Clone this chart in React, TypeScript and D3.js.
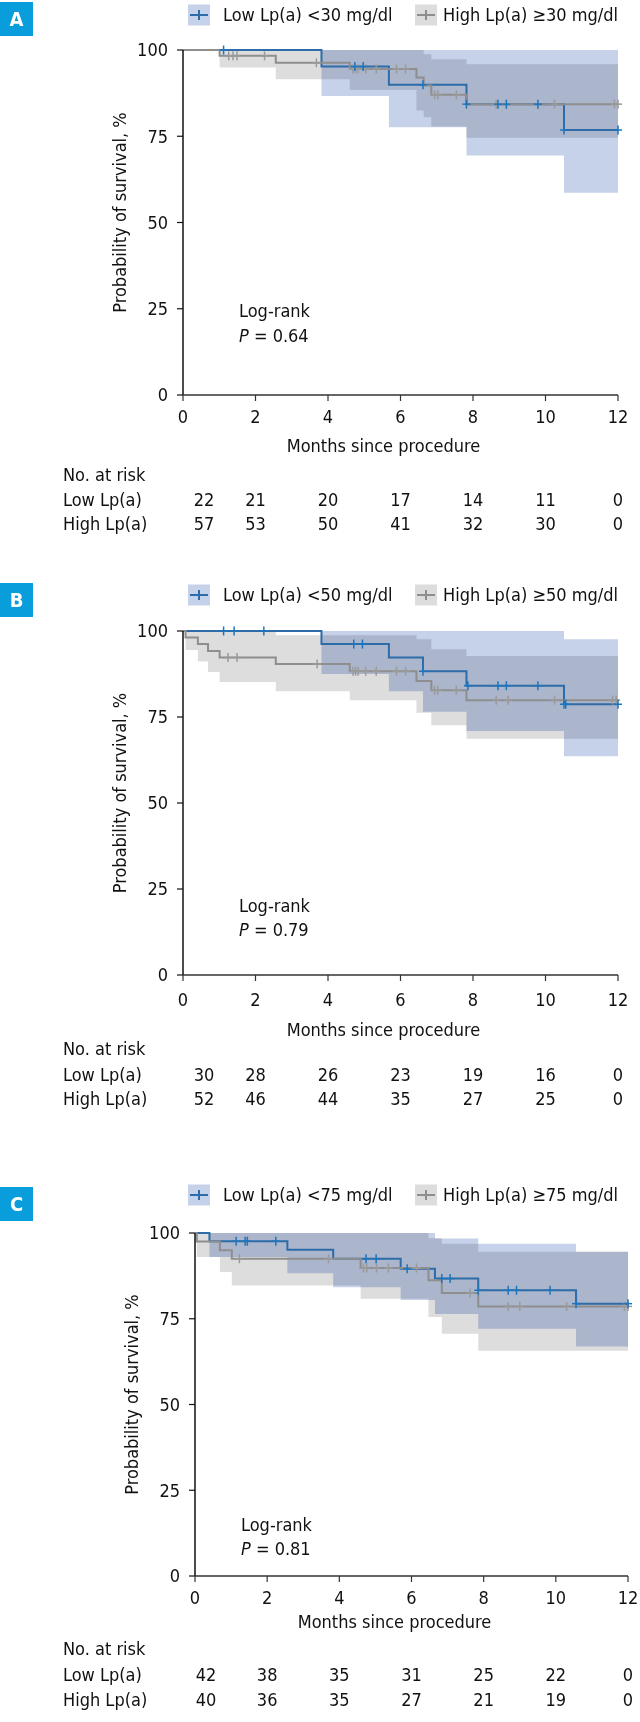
import * as d3 from "d3";

// ---- shared ----
const MONTH_TICKS = [0, 2, 4, 6, 8, 10, 12];
const SURV_TICKS = [0, 25, 50, 75, 100];
const PANEL_LETTERS = ["A", "B", "C"];
const CUTOFFS = [30, 50, 75];
const P_VALUES = ["0.64", "0.79", "0.81"];

// ---- panel A (cutoff 30 mg/dl) ----
const aLowT = [0, 3.82, 5.68, 7.82, 10.51, 12];
const aLowS = [100, 95.2, 89.9, 84.3, 76.8, 76.8];
const aLowCens = [1.12, 4.74, 4.97, 6.62, 7.82, 8.69, 8.92, 9.79, 10.51, 12];
const aLowBandT = [3.82, 5.68, 7.82, 10.51, 12];
const aLowUp = [100, 100, 100, 100, 100];
const aLowLo = [86.7, 77.6, 69.4, 58.6, 58.6];

const aHighT = [0, 1.01, 2.56, 4.6, 6.44, 6.64, 6.85, 7.82, 12];
const aHighS = [100, 98.3, 96.3, 94.5, 92.0, 89.7, 87.0, 84.3, 84.3];
const aHighCens = [1.26, 1.38, 1.49, 2.25, 3.68, 4.69, 4.76, 4.83, 5.04, 5.33, 5.89, 6.14, 6.94, 7.03, 7.54, 8.64, 8.92, 10.25, 11.9, 12];
const aHighBandT = [1.01, 2.56, 4.6, 6.44, 6.64, 6.85, 7.82, 12];
const aHighUp = [100, 100, 100, 100, 98.8, 97.3, 95.9, 95.9];
const aHighLo = [94.9, 91.5, 88.4, 82.5, 80.5, 77.8, 74.6, 74.6];

const aRiskLow = [22, 21, 20, 17, 14, 11, 0];
const aRiskHigh = [57, 53, 50, 41, 32, 30, 0];

// ---- panel B (cutoff 50 mg/dl) ----
const bLowT = [0, 3.82, 5.68, 6.62, 7.82, 10.51, 12];
const bLowS = [100, 96.2, 92.3, 88.3, 84.1, 78.7, 78.7];
const bLowCens = [1.12, 1.41, 2.23, 4.71, 4.95, 6.62, 7.86, 8.69, 8.92, 9.79, 10.51, 10.56, 12];
const bLowBandT = [3.82, 5.68, 6.62, 7.82, 10.51, 12];
const bLowUp = [100, 100, 100, 100, 97.6, 97.6];
const bLowLo = [87.5, 82.5, 76.5, 70.9, 63.6, 63.6];

const bHighT = [0, 0.07, 0.41, 0.69, 1.01, 2.56, 4.6, 6.44, 6.85, 7.82, 12];
const bHighS = [100, 98.1, 96.2, 94.2, 92.3, 90.4, 88.3, 85.5, 82.8, 79.9, 79.9];
const bHighCens = [1.24, 1.49, 3.7, 4.69, 4.76, 4.83, 5.04, 5.33, 5.89, 6.14, 6.94, 7.03, 7.54, 8.64, 8.97, 10.25, 11.85, 11.95];
const bHighBandT = [0.07, 0.41, 0.69, 1.01, 2.56, 4.6, 6.44, 6.85, 7.82, 12];
const bHighUp = [100, 100, 100, 100, 98.8, 98.8, 97.6, 94.7, 92.7, 92.7];
const bHighLo = [94.5, 91.1, 88.1, 85.2, 82.5, 79.9, 76.2, 72.6, 68.7, 68.7];

const bRiskLow = [30, 28, 26, 23, 19, 16, 0];
const bRiskHigh = [52, 46, 44, 35, 27, 25, 0];

// ---- panel C (cutoff 75 mg/dl) ----
const cLowT = [0, 0.4, 2.56, 3.83, 5.7, 6.65, 7.85, 10.56, 12];
const cLowS = [100, 97.6, 95.1, 92.5, 89.6, 86.7, 83.3, 79.4, 79.4];
const cLowCens = [1.14, 1.39, 1.45, 2.24, 4.74, 5.02, 5.88, 6.84, 7.07, 7.85, 8.68, 8.91, 9.84, 10.56, 12];
const cLowBandT = [0.4, 2.56, 3.83, 5.7, 6.65, 7.85, 10.56, 12];
const cLowUp = [100, 100, 100, 100, 98.4, 96.9, 94.5, 94.5];
const cLowLo = [93.0, 88.3, 84.2, 80.5, 76.4, 72.1, 66.9, 66.9];

const cHighT = [0, 0.05, 0.69, 1.02, 4.59, 6.47, 6.84, 7.85, 12];
const cHighS = [100, 97.5, 95.0, 92.5, 89.8, 86.2, 82.5, 78.6, 78.6];
const cHighCens = [1.23, 3.7, 4.67, 4.76, 5.03, 5.36, 6.14, 7.62, 8.68, 9.0, 10.3, 11.9, 12];
const cHighBandT = [0.05, 0.69, 1.02, 4.59, 6.47, 6.84, 7.85, 12];
const cHighUp = [100, 100, 100, 100, 98.5, 96.9, 94.5, 94.5];
const cHighLo = [93.0, 88.6, 84.7, 80.8, 75.5, 70.6, 65.7, 65.7];

const cRiskLow = [42, 38, 35, 31, 25, 22, 0];
const cRiskHigh = [40, 36, 35, 27, 21, 19, 0];

// ---- styling / layout ----
const FONT = "'DejaVu Sans Condensed', 'Liberation Sans Narrow', 'Arial Narrow', sans-serif";
const FS = 18;
const BLUE = "#2d6ca8";
const BLUE_MARK = "#1f75bb";
const BLUE_BAND = "#c6d1ea";
const GREY = "#8e8e8e";
const GREY_MARK = "#9a9a9a";
const GREY_BAND = "#dddddd";
const TAG = "#0a9ddc";

const LAYOUT = [
  { top: 2, legendY: 15, x0: 183, x12: 618, y100: 50, y0: 395, tickY: 417, monthsY: 446, noRiskY: 475, lowY: 500, highY: 524, lrX: 239, lrY: 311, pY: 336, firstOff: 21 },
  { top: 583, legendY: 595, x0: 183, x12: 618, y100: 631, y0: 975, tickY: 1000, monthsY: 1030, noRiskY: 1049, lowY: 1075, highY: 1099, lrX: 239, lrY: 906, pY: 930, firstOff: 21 },
  { top: 1187, legendY: 1195, x0: 195, x12: 628, y100: 1233, y0: 1576, tickY: 1598, monthsY: 1622, noRiskY: 1649, lowY: 1675, highY: 1700, lrX: 241, lrY: 1525, pY: 1549, firstOff: 11 },
];

const PANELS = [
  {
    low: { t: aLowT, s: aLowS, cens: aLowCens, bt: aLowBandT, up: aLowUp, lo: aLowLo },
    high: { t: aHighT, s: aHighS, cens: aHighCens, bt: aHighBandT, up: aHighUp, lo: aHighLo },
    riskLow: aRiskLow, riskHigh: aRiskHigh,
  },
  {
    low: { t: bLowT, s: bLowS, cens: bLowCens, bt: bLowBandT, up: bLowUp, lo: bLowLo },
    high: { t: bHighT, s: bHighS, cens: bHighCens, bt: bHighBandT, up: bHighUp, lo: bHighLo },
    riskLow: bRiskLow, riskHigh: bRiskHigh,
  },
  {
    low: { t: cLowT, s: cLowS, cens: cLowCens, bt: cLowBandT, up: cLowUp, lo: cLowLo },
    high: { t: cHighT, s: cHighS, cens: cHighCens, bt: cHighBandT, up: cHighUp, lo: cHighLo },
    riskLow: cRiskLow, riskHigh: cRiskHigh,
  },
];

const stepAt = (T: number[], S: number[], t: number) => {
  const i = d3.bisectRight(T, t) - 1;
  return S[Math.max(0, i)];
};

const Curve = ({ g, x, y, color }: any) => {
  const line = d3
    .line<number>()
    .x((d) => x(g.t[d]))
    .y((d) => y(g.s[d]))
    .curve(d3.curveStepAfter);
  return <path d={line(d3.range(g.t.length)) || ""} fill="none" stroke={color} strokeWidth={2} />;
};

const Marks = ({ g, x, y, mark }: any) => (
  <g stroke={mark} strokeWidth={1.5}>
    {g.cens.map((c: number, i: number) => {
      const cx = x(c);
      const cy = y(stepAt(g.t, g.s, c));
      return (
        <g key={i}>
          <line x1={cx} x2={cx} y1={cy - 4.5} y2={cy + 4.5} />
          <line x1={cx - 4} x2={cx + 4} y1={cy} y2={cy} />
        </g>
      );
    })}
  </g>
);

const Band = ({ g, x, y, fill, blend }: any) => {
  const area = d3
    .area<number>()
    .x((d) => x(g.bt[d]))
    .y0((d) => y(g.lo[d]))
    .y1((d) => y(g.up[d]))
    .curve(d3.curveStepAfter);
  return <path d={area(d3.range(g.bt.length)) || ""} fill={fill} style={blend ? { mixBlendMode: "multiply" } : undefined} />;
};

const LegendItem = ({ bx, tx, cy, band, color, label }: any) => (
  <g>
    <rect x={bx} y={cy - 10.5} width={22} height={21} fill={band} />
    <line x1={bx + 2} x2={bx + 20} y1={cy} y2={cy} stroke={color} strokeWidth={2} />
    <line x1={bx + 11} x2={bx + 11} y1={cy - 5} y2={cy + 5} stroke={color} strokeWidth={2} />
    <text x={tx} y={cy} dy="0.35em">{label}</text>
  </g>
);

const Panel = ({ idx }: { idx: number }) => {
  const L = LAYOUT[idx];
  const P = PANELS[idx];
  const x = d3.scaleLinear().domain([0, 12]).range([L.x0, L.x12]);
  const y = d3.scaleLinear().domain([0, 100]).range([L.y0, L.y100]);
  const cut = CUTOFFS[idx];
  const mid = (L.x0 + L.x12) / 2 - 17;
  return (
    <g>
      {/* panel tag */}
      <rect x={0} y={L.top} width={33} height={34} fill={TAG} />
      <text x={16.5} y={L.top + 17} dy="0.35em" textAnchor="middle" fill="#fff" fontWeight="bold" fontSize={20}>
        {PANEL_LETTERS[idx]}
      </text>

      {/* legend */}
      <LegendItem bx={188} tx={223} cy={L.legendY} band={BLUE_BAND} color={BLUE} label={`Low Lp(a) <${cut} mg/dl`} />
      <LegendItem bx={415} tx={443} cy={L.legendY} band={GREY_BAND} color={GREY} label={`High Lp(a) \u2265${cut} mg/dl`} />

      {/* confidence bands */}
      <Band g={P.high} x={x} y={y} fill={GREY_BAND} />
      <Band g={P.low} x={x} y={y} fill={BLUE_BAND} blend />

      {/* curves */}
      <Curve g={P.low} x={x} y={y} color={BLUE} />
      <Curve g={P.high} x={x} y={y} color={GREY} />
      <Marks g={P.high} x={x} y={y} mark={GREY_MARK} />
      <Marks g={P.low} x={x} y={y} mark={BLUE_MARK} />

      {/* y axis */}
      <line x1={L.x0} x2={L.x0} y1={y(100)} y2={y(0)} stroke="#111" strokeWidth={1.5} />
      {SURV_TICKS.map((v) => (
        <g key={v}>
          <line x1={L.x0 - 6} x2={L.x0} y1={y(v)} y2={y(v)} stroke="#111" strokeWidth={1.2} />
          <text x={L.x0 - 15} y={y(v)} dy="0.35em" textAnchor="end">{v}</text>
        </g>
      ))}
      <text
        transform={`translate(${L.x0 - 63},${(y(0) + y(100)) / 2 - 10}) rotate(-90)`}
        textAnchor="middle"
        dy="0.35em"
      >
        Probability of survival, %
      </text>

      {/* x axis */}
      <line x1={L.x0} x2={L.x12} y1={L.y0} y2={L.y0} stroke="#333" strokeWidth={1.5} />
      {MONTH_TICKS.map((m) => (
        <g key={m}>
          <line x1={x(m)} x2={x(m)} y1={L.y0} y2={L.y0 + 6} stroke="#333" strokeWidth={1.2} />
          <text x={x(m)} y={L.tickY} dy="0.35em" textAnchor="middle">{m}</text>
        </g>
      ))}
      <text x={mid} y={L.monthsY} dy="0.35em" textAnchor="middle">Months since procedure</text>

      {/* log-rank */}
      <text x={L.lrX} y={L.lrY} dy="0.35em">Log-rank</text>
      <text x={L.lrX} y={L.pY} dy="0.35em">
        <tspan fontStyle="italic">P</tspan> = {P_VALUES[idx]}
      </text>

      {/* risk table */}
      <text x={63} y={L.noRiskY} dy="0.35em">No. at risk</text>
      <text x={63} y={L.lowY} dy="0.35em">Low Lp(a)</text>
      <text x={63} y={L.highY} dy="0.35em">High Lp(a)</text>
      {MONTH_TICKS.map((m, i) => (
        <g key={m}>
          <text x={x(m) + (i === 0 ? L.firstOff : 0)} y={L.lowY} dy="0.35em" textAnchor="middle">{P.riskLow[i]}</text>
          <text x={x(m) + (i === 0 ? L.firstOff : 0)} y={L.highY} dy="0.35em" textAnchor="middle">{P.riskHigh[i]}</text>
        </g>
      ))}
    </g>
  );
};

export default function App() {
  return (
    <svg
      width={640}
      height={1722}
      style={{ position: "absolute", left: 0, top: 0, background: "#fff" }}
      fontFamily={FONT}
      fontSize={FS}
      fill="#111"
    >
      <rect width={640} height={1722} fill="#fff" />
      {PANELS.map((_, i) => (
        <Panel key={i} idx={i} />
      ))}
    </svg>
  );
}
